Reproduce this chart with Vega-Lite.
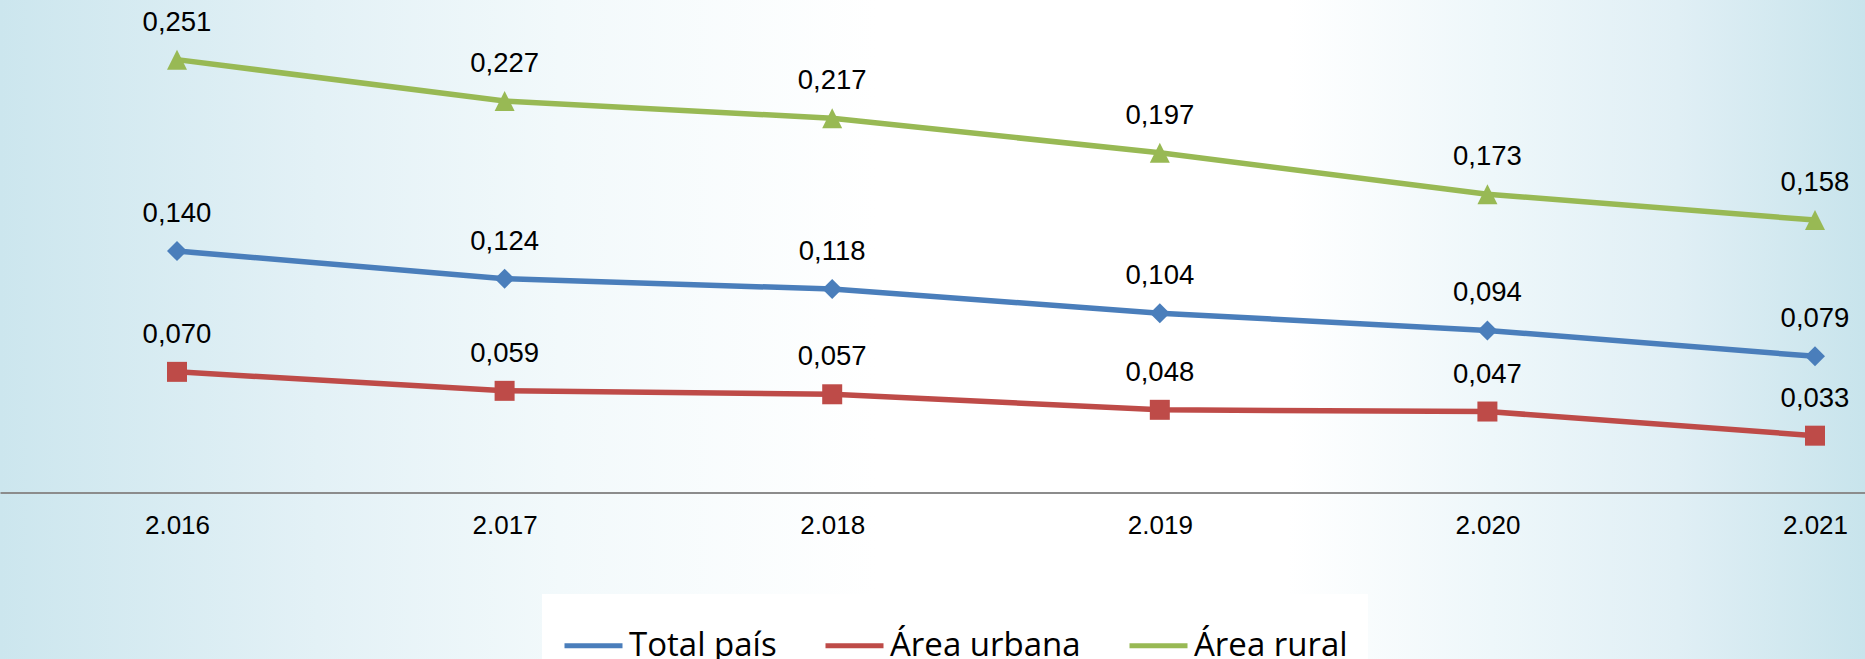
{
  "$schema": "https://vega.github.io/schema/vega-lite/v6.json",
  "width": 1865,
  "height": 659,
  "autosize": {"type": "none"},
  "padding": 0,
  "background": "#ffffff",
  "config": {
    "view": {
      "stroke": null,
      "fill": {
        "gradient": "linear", "x1": 0, "y1": 0, "x2": 1, "y2": 0,
        "stops": [
          {"offset": 0, "color": "#cce6ee"},
          {"offset": 0.17, "color": "#e3f1f6"},
          {"offset": 0.3, "color": "#f2f9fb"},
          {"offset": 0.47, "color": "#ffffff"},
          {"offset": 0.69, "color": "#ffffff"},
          {"offset": 0.8, "color": "#eef7fa"},
          {"offset": 0.9, "color": "#e0eff5"},
          {"offset": 1, "color": "#c8e4ec"}
        ]
      }
    }
  },
  "data": {
    "values": [
      {"year": 2016, "serie": "Total país", "value": 0.140},
      {"year": 2017, "serie": "Total país", "value": 0.124},
      {"year": 2018, "serie": "Total país", "value": 0.118},
      {"year": 2019, "serie": "Total país", "value": 0.104},
      {"year": 2020, "serie": "Total país", "value": 0.094},
      {"year": 2021, "serie": "Total país", "value": 0.079},
      {"year": 2016, "serie": "Área urbana", "value": 0.070},
      {"year": 2017, "serie": "Área urbana", "value": 0.059},
      {"year": 2018, "serie": "Área urbana", "value": 0.057},
      {"year": 2019, "serie": "Área urbana", "value": 0.048},
      {"year": 2020, "serie": "Área urbana", "value": 0.047},
      {"year": 2021, "serie": "Área urbana", "value": 0.033},
      {"year": 2016, "serie": "Área rural", "value": 0.251},
      {"year": 2017, "serie": "Área rural", "value": 0.227},
      {"year": 2018, "serie": "Área rural", "value": 0.217},
      {"year": 2019, "serie": "Área rural", "value": 0.197},
      {"year": 2020, "serie": "Área rural", "value": 0.173},
      {"year": 2021, "serie": "Área rural", "value": 0.158}
    ]
  },
  "encoding": {
    "x": {
      "field": "year", "type": "quantitative",
      "scale": {"domain": [2015.4597, 2021.1526], "nice": false, "zero": false},
      "axis": {
        "values": [2016, 2017, 2018, 2019, 2020, 2021],
        "format": ",d", "labelExpr": "replace(datum.label, ',', '.')",
        "orient": "bottom", "offset": -166.4,
        "domain": true, "domainColor": "#8c8c8c", "domainWidth": 2,
        "ticks": false, "tickSize": 0, "grid": false,
        "labelFont": "Liberation Sans", "labelFontSize": 26, "labelColor": "#000000",
        "labelPadding": 20, "title": null, "labelFlush": false, "labelOverlap": false
      }
    },
    "y": {
      "field": "value", "type": "quantitative",
      "scale": {"domain": [-0.09646, 0.28557], "nice": false, "zero": false},
      "axis": null
    }
  },
  "resolve": {"legend": {"color": "independent", "shape": "independent"}},
  "layer": [
    {
      "mark": {"type": "line", "strokeWidth": 5.5},
      "encoding": {
        "color": {
          "field": "serie", "type": "nominal",
          "scale": {"domain": ["Total país", "Área urbana", "Área rural"], "range": ["#4a7ebb", "#be4b48", "#98b954"]},
          "legend": {
            "title": null, "orient": "none", "legendX": 542, "legendY": 594, "direction": "horizontal",
            "fillColor": "#ffffff", "padding": 20,
            "symbolSize": 3364, "symbolStrokeWidth": 5,
            "labelFont": "Open Sans", "labelFontSize": 33, "labelColor": "#000000",
            "labelOffset": 4, "columnPadding": 38, "labelLimit": 500
          }
        }
      }
    },
    {
      "mark": {"type": "point", "filled": true, "size": 400, "opacity": 1},
      "encoding": {
        "color": {"field": "serie", "type": "nominal", "legend": null},
        "shape": {
          "field": "serie", "type": "nominal",
          "scale": {"domain": ["Total país", "Área urbana", "Área rural"], "range": ["diamond", "square", "M0,-1L1,1L-1,1Z"]},
          "legend": null
        }
      }
    },
    {
      "mark": {"type": "text", "dy": -37, "align": "center", "baseline": "middle", "font": "Liberation Sans", "fontSize": 27.5, "color": "#000000",
               "text": {"expr": "replace(format(datum.value, '.3f'), '.', ',')"}},
      "encoding": {}
    }
  ]
}
